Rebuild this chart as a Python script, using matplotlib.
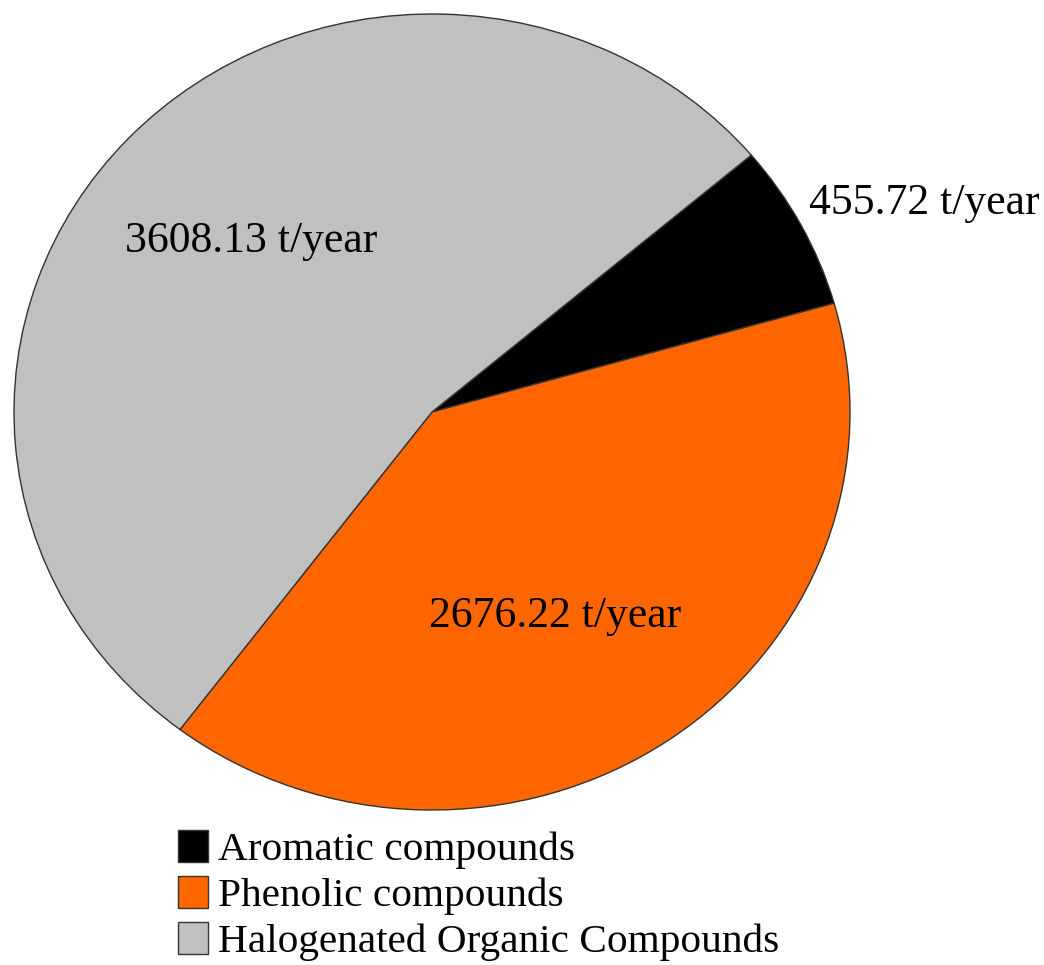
import matplotlib.pyplot as plt
import numpy as np

categories = ['Aromatic compounds', 'Phenolic compounds', 'Halogenated Organic Compounds']
values = [455.72, 2676.22, 3608.13]
colors = ['#000000', '#ff6600', '#c0c0c0']

plt.rcParams['font.family'] = ['Liberation Serif', 'DejaVu Serif']

W, H = 1044, 965
fig = plt.figure(figsize=(W / 100, H / 100), dpi=100)
# pie box in pixels: x 14..850, y 14..810 (slightly wider than tall)
ax = fig.add_axes([14 / W, 1 - 810 / H, 836 / W, 796 / H])

wedges, _ = ax.pie(values, colors=colors, startangle=40.2, counterclock=False,
                   wedgeprops={'edgecolor': '#333333', 'linewidth': 1.0})
ax.set_aspect('auto')
ax.set_xlim(-1, 1)
ax.set_ylim(-1, 1)
ax.axis('off')

# label placement: (radius, angle shift in degrees)
placement = [(1.29, -4), (0.59, -4.5), (0.61, -1.5)]
for w, v, (r, da) in zip(wedges, values, placement):
    ang = np.deg2rad((w.theta1 + w.theta2) / 2 + da)
    ax.text(r * np.cos(ang), r * np.sin(ang), f'{v:.2f} t/year',
            ha='center', va='center', fontsize=31.5)

fig.legend(wedges, categories, loc='upper left', bbox_to_anchor=(178 / W, 1 - 830 / H),
           frameon=False, fontsize=29.7, handlelength=0.72, handleheight=0.8,
           handletextpad=0.25, labelspacing=0.17, borderpad=0, borderaxespad=0)

fig.savefig('out.png', dpi=100)
